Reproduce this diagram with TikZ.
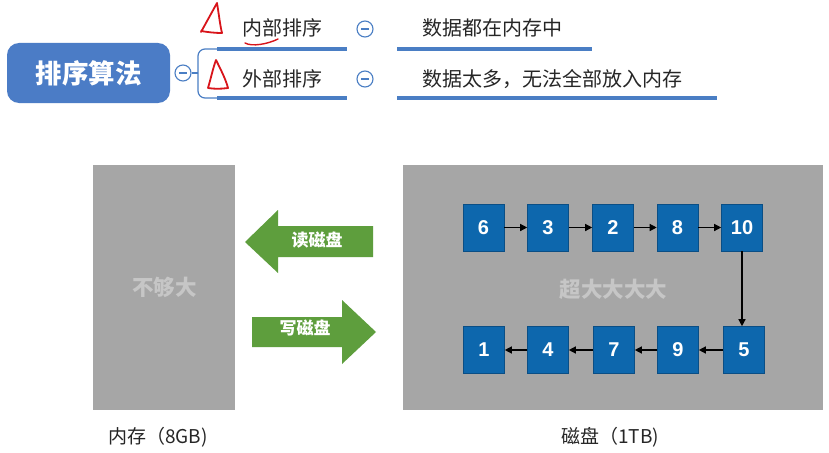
\documentclass[tikz,border=0pt]{standalone}
\usepackage{fontspec}
\setmainfont{Liberation Sans}
\newfontfamily\cjk{Noto Sans CJK SC}
\usetikzlibrary{arrows.meta}
\definecolor{mmblue}{HTML}{4A7EC4}
\definecolor{rootblue}{HTML}{4B7CC6}
\definecolor{memgray}{HTML}{A6A6A6}
\definecolor{softgray}{HTML}{C6C6C6}
\definecolor{arrgreen}{HTML}{5E9E3D}
\definecolor{boxblue}{HTML}{0D67AD}
\definecolor{boxedge}{HTML}{0A4E85}
\definecolor{inkred}{HTML}{D8141A}
\begin{document}
\begin{tikzpicture}[x=1pt,y=-1pt,
  numbox/.style={draw=boxedge,line width=0.6pt,fill=boxblue,minimum width=41pt,minimum height=47pt,inner sep=0pt,text=white,font=\fontsize{20}{20}\selectfont\bfseries},
  link/.style={-{Triangle[length=7pt,width=7pt]},line width=1.3pt,black},
  minus/.style={circle,draw=mmblue,line width=1.1pt,fill=white,minimum size=16pt,inner sep=0pt,
    path picture={\draw[mmblue,line width=1.4pt] ([xshift=-4pt]path picture bounding box.center) -- ([xshift=4pt]path picture bounding box.center);}},
  mmtext/.style={inner sep=0pt,font=\cjk\fontsize{20}{20}\selectfont,text=black!85},
  uline/.style={mmblue,line width=4pt},
  ink/.style={inkred,line width=1.8pt,line cap=round,line join=round},
  graybox/.style={fill=memgray,draw=none},
  bigarrow/.style={fill=arrgreen,draw=none},
  arrtext/.style={inner sep=0pt,text=white,font=\cjk\fontsize{17}{17}\selectfont\bfseries},
  graytext/.style={inner sep=0pt,text=softgray,font=\cjk\fontsize{21.5}{21.5}\selectfont\bfseries},
  caption/.style={inner sep=0pt,font=\cjk\fontsize{19}{19}\selectfont,text=black!85}
]
\useasboundingbox[fill=white] (0,0) rectangle (829,452);

% ---------- mind map ----------
\node[fill=rootblue,rounded corners=12pt,minimum width=163pt,minimum height=60pt,inner sep=0pt,
      text=white,font=\cjk\fontsize{26.5}{26.5}\selectfont\bfseries] (root) at (88.5,73) {排序算法};
\node[minus] (rc) at (183,73) {};
\coordinate (br) at (198,73);
\coordinate (topend) at (217,49);
\coordinate (botend) at (217,98);
\draw[mmblue,line width=1.2pt] (rc.east) -- (br);
\draw[mmblue,line width=1.2pt,rounded corners=7pt] (br) -- (198,49) -- (topend);
\draw[mmblue,line width=1.2pt,rounded corners=7pt] (br) -- (198,98) -- (botend);

\node[mmtext,anchor=west] (inner) at (242,28) {内部排序};
\node[mmtext,anchor=west] (outer) at (242,79) {外部排序};
\node[minus] (c1) at (365,29) {};
\node[minus] (c2) at (365,79) {};
\node[mmtext,anchor=west] (d1) at (422,28) {数据都在内存中};
\node[mmtext,anchor=west] (d2) at (422,79) {数据太多，无法全部放入内存};

\coordinate (u1a) at (347,49);
\coordinate (u1b) at (397,49);
\coordinate (u1c) at (592,49);
\coordinate (u2a) at (347,98);
\coordinate (u2b) at (397,98);
\coordinate (u2c) at (717,98);
\draw[uline] (topend) -- (u1a);
\draw[uline] (u1b) -- (u1c);
\draw[uline] (botend) -- (u2a);
\draw[uline] (u2b) -- (u2c);

% red handwritten marks
\draw[ink] (201,32) -- (217,3) .. controls (219,15) and (220,25) .. (222,33) .. controls (214,33) and (207,32) .. (201,31);
\draw[ink] (208,88) .. controls (211,78) and (213,68) .. (216,60) .. controls (221,70) and (226,80) .. (228,88) .. controls (221,89) and (214,89) .. (208,88);
\draw[ink,line width=1.4pt] (245,43) .. controls (252,47) and (268,44) .. (278,39);

% ---------- memory & disk ----------
\node[graybox,minimum width=142pt,minimum height=245pt,inner sep=0pt] (mem) at (164,287.5) {};
\node[graytext] (memtxt) at (164.5,287) {不够大};
\node[graybox,minimum width=420pt,minimum height=245pt,inner sep=0pt] (disk) at (613,287.5) {};
\node[graytext] (disktxt) at (613.5,289) {超大大大大};

\node[caption] (memcap) at (158,437) {内存（8GB)};
\node[caption] (diskcap) at (610,437) {磁盘（1TB)};

% green arrows
\fill[bigarrow] (245,242) -- (278,210) -- (278,226) -- (373,226) -- (373,257) -- (278,257) -- (278,273) -- cycle;
\node[arrtext] (rd) at (317,240) {读磁盘};
\fill[bigarrow] (252,317) -- (342,317) -- (342,300) -- (376,332) -- (342,364) -- (342,347) -- (252,347) -- cycle;
\node[arrtext] (wr) at (305,328) {写磁盘};

% number boxes
\node[numbox] (n6) at (483.5,227.5) {6};
\node[numbox] (n3) at (548,227.5) {3};
\node[numbox] (n2) at (613,227.5) {2};
\node[numbox] (n8) at (677.5,227.5) {8};
\node[numbox] (n10) at (742,227.5) {10};
\node[numbox] (n1) at (484,350) {1};
\node[numbox] (n4) at (548,350) {4};
\node[numbox] (n7) at (614,350) {7};
\node[numbox] (n9) at (678,350) {9};
\node[numbox] (n5) at (744,350) {5};

\draw[link] (n6) -- (n3);
\draw[link] (n3) -- (n2);
\draw[link] (n2) -- (n8);
\draw[link] (n8) -- (n10);
\draw[link] (n10.south) -- (n10.south |- n5.north);
\draw[link] (n5) -- (n9);
\draw[link] (n9) -- (n7);
\draw[link] (n7) -- (n4);
\draw[link] (n4) -- (n1);
\end{tikzpicture}
\end{document}
